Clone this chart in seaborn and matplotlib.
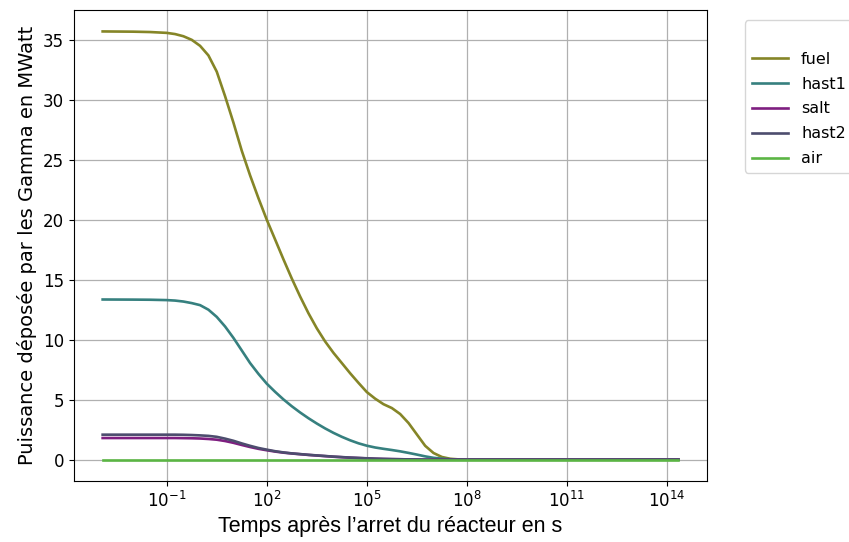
import numpy as np
import pandas as pd
import matplotlib
matplotlib.use("Agg")
import matplotlib.pyplot as plt
from matplotlib.ticker import NullLocator
import seaborn as sns

# time after reactor shutdown (s)
time_s = [1.2e-3, 1e-2, 3.16e-2,
          1e-1, 1.78e-1, 3.16e-1, 5.62e-1,
          1.0, 1.78, 3.16, 5.62,
          1e1, 1.78e1, 3.16e1, 5.62e1,
          1e2, 1.78e2, 3.16e2, 5.62e2,
          1e3, 1.78e3, 3.16e3, 5.62e3,
          1e4, 1.78e4, 3.16e4, 5.62e4,
          1e5, 1.78e5, 3.16e5, 5.62e5,
          1e6, 1.78e6, 3.16e6, 5.62e6,
          1e7, 1.78e7, 3.16e7, 5.62e7,
          1e8, 1e9, 1e11, 2.2e14]

fuel = [35.7, 35.68, 35.65,
        35.58, 35.48, 35.3, 35.0,
        34.5, 33.7, 32.35, 30.3,
        28.1, 25.75, 23.7, 21.8,
        20.0, 18.35, 16.7, 15.1,
        13.6, 12.2, 10.95, 9.85,
        8.9, 8.05, 7.2, 6.4,
        5.63, 5.08, 4.62, 4.3,
        3.8, 3.05, 2.1, 1.15,
        0.55, 0.22, 0.07, 0.02,
        0.0, 0.0, 0.0, 0.0]

hast1 = [13.35, 13.34, 13.33,
         13.3, 13.26, 13.18, 13.05,
         12.88, 12.5, 11.9, 11.1,
         10.15, 9.1, 8.05, 7.15,
         6.33, 5.65, 5.02, 4.45,
         3.93, 3.45, 3.01, 2.6,
         2.23, 1.9, 1.61, 1.36,
         1.16, 1.01, 0.9, 0.8,
         0.69, 0.56, 0.42, 0.27,
         0.15, 0.08, 0.03, 0.01,
         0.0, 0.0, 0.0, 0.0]

salt = [1.8, 1.8, 1.8,
        1.8, 1.8, 1.79, 1.78,
        1.76, 1.72, 1.66, 1.55,
        1.4, 1.22, 1.05, 0.9,
        0.78, 0.67, 0.58, 0.51,
        0.45, 0.39, 0.34, 0.29,
        0.24, 0.2, 0.16, 0.13,
        0.1, 0.07, 0.05, 0.04,
        0.03, 0.02, 0.01, 0.0,
        0.0, 0.0, 0.0, 0.0,
        0.0, 0.0, 0.0, 0.0]

hast2 = [2.08, 2.08, 2.08,
         2.08, 2.08, 2.07, 2.05,
         2.02, 1.98, 1.9, 1.75,
         1.57, 1.35, 1.15, 0.97,
         0.83, 0.7, 0.6, 0.52,
         0.46, 0.4, 0.35, 0.3,
         0.25, 0.21, 0.17, 0.14,
         0.11, 0.08, 0.06, 0.04,
         0.03, 0.02, 0.01, 0.0,
         0.0, 0.0, 0.0, 0.0,
         0.0, 0.0, 0.0, 0.0]

air = [0.0] * len(time_s)

series = {"fuel": fuel, "hast1": hast1, "salt": salt, "hast2": hast2, "air": air}
colors = {"fuel": "#858527", "hast1": "#36807f", "salt": "#7e1e80",
          "hast2": "#4d4d6e", "air": "#5bb544"}

df = pd.concat(
    [pd.DataFrame({"t": time_s, "P": vals, "comp": name}) for name, vals in series.items()],
    ignore_index=True,
)

fig = plt.figure(figsize=(8.49, 5.42), dpi=100)
ax = fig.add_axes([0.087, 0.1125, 0.746, 0.869])

sns.lineplot(data=df, x="t", y="P", hue="comp", palette=colors, ax=ax,
             linewidth=1.9, legend=False, sort=False)

ax.set_xscale("log")
ax.set_xticks([1e-1, 1e2, 1e5, 1e8, 1e11, 1e14])
ax.xaxis.set_minor_locator(NullLocator())
ax.set_yticks([0, 5, 10, 15, 20, 25, 30, 35])
ax.tick_params(labelsize=12)
ax.grid(True, color="#b0b0b0", linewidth=0.9)
ax.set_axisbelow(True)

ax.set_xlabel("Temps après l’arret du réacteur en s", fontsize=15.5,
              family=["Liberation Sans", "DejaVu Sans"])
ax.set_ylabel("Puissance déposée par les Gamma en MWatt", fontsize=14)

handles = [plt.Line2D([], [], color=colors[n], linewidth=1.9) for n in series]
leg = ax.legend(handles, list(series.keys()), title=" ", fontsize=11.5,
                title_fontsize=11.5, loc="upper left",
                bbox_to_anchor=(1.06, 0.978), borderaxespad=0,
                labelspacing=0.62, handlelength=2.3)

fig.savefig("out.png", dpi=100)
